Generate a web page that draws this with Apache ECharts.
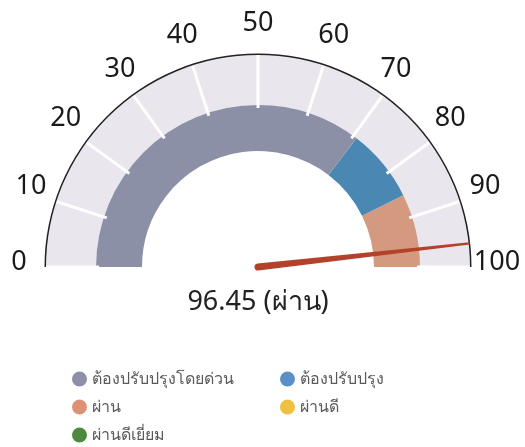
<!DOCTYPE html>
<html>
<head>
<meta charset="utf-8">
<script src="https://cdn.jsdelivr.net/npm/echarts@6/dist/echarts.min.js"></script>
<style>
html,body{margin:0;padding:0;background:#fff;}
#chart{width:525px;height:447px;}
</style>
</head>
<body>
<div id="chart"></div>
<script>
// ---- data ----
const gaugeMin = 0;
const gaugeMax = 100;
const gaugeSplit = 10;
const gaugeValue = 96.45;
const gaugeStatus = 'ผ่าน';
const bandEnds = [70.8, 85.4, 100];
const bandColors = ['#8b90a6', '#4b87b3', '#d49a7f'];
const legendNames = ['ต้องปรับปรุงโดยด่วน', 'ต้องปรับปรุง', 'ผ่าน', 'ผ่านดี', 'ผ่านดีเยี่ยม'];
const legendColors = ['#8e90aa', '#5b8fc8', '#de9275', '#f0c040', '#4e8a3e'];
const legendLeftCol = ['ต้องปรับปรุงโดยด่วน', 'ผ่าน', 'ผ่านดีเยี่ยม'];
const legendRightCol = ['ต้องปรับปรุง', 'ผ่านดี'];

const FONT = '"Noto Sans", "Open Sans", sans-serif';
const CENTER = [258, 267];

const base = {
  type: 'gauge', center: CENTER, startAngle: 180, endAngle: 0,
  min: gaugeMin, max: gaugeMax, splitNumber: gaugeSplit,
  axisLine: { show: false, lineStyle: { width: 0 } }, axisTick: { show: false }, splitLine: { show: false },
  axisLabel: { show: false }, pointer: { show: false }, title: { show: false },
  detail: { show: false }, anchor: { show: false }, progress: { show: false },
  silent: true, data: []
};
function g(o) { return Object.assign({}, base, o); }

const legendCommon = {
  orient: 'vertical', top: 370, itemGap: 10, icon: 'circle', padding: 0,
  itemWidth: 15, itemHeight: 15, selectedMode: false, height: 80,
  textStyle: { fontSize: 16, color: '#5a5a5a', fontFamily: FONT, lineHeight: 18 }
};

const option = {
  animation: false,
  legend: [
    Object.assign({}, legendCommon, { left: 72, data: legendLeftCol }),
    Object.assign({}, legendCommon, { left: 280, data: legendRightCol })
  ],
  series: [
    g({ radius: 213, axisLine: { show: true, lineStyle: { width: 51, color: [[1, '#e9e7ed']] } } }),
    g({ radius: 162, axisLine: { show: true, lineStyle: { width: 46,
        color: bandEnds.map((e, i) => [(e - gaugeMin) / (gaugeMax - gaugeMin), bandColors[i]]) } } }),
    g({ radius: 212, splitLine: { show: true, length: 53, distance: 0, lineStyle: { color: '#fff', width: 3 } } }),
    g({ radius: 213.5, axisLine: { show: true, lineStyle: { width: 1.5, color: [[1, '#222']] } } }),
    {
      type: 'pie', center: [-500, -500], radius: 1, silent: true,
      label: { show: false }, labelLine: { show: false },
      data: legendNames.map((n, i) => ({ name: n, value: 1, itemStyle: { color: legendColors[i] } }))
    },
    g({
      radius: 213,
      splitLine: { show: false, length: 0, distance: 0 },
      axisLabel: { show: true, distance: -32, color: '#1a1a1a', fontSize: 27, fontFamily: FONT,
        padding: [0, 5, 10, 5],
        formatter: v => '{t|' + v + '}',
        rich: { t: { width: 2, height: 2, lineHeight: 2, align: 'center', verticalAlign: 'middle',
          fontSize: 27, fontFamily: FONT, color: '#1a1a1a' } } },
      pointer: { show: true, icon: 'path://M2.4,0 L4.6,0 L7,213 A3.5,3.5 0 0 1 0,213 Z',
        width: 7, length: 216.5, offsetCenter: [0, 3.5], itemStyle: { color: '#b3412b' } },
      detail: { show: true, offsetCenter: [0, 35], fontSize: 27, fontWeight: 'normal', color: '#222', fontFamily: FONT,
        formatter: v => v + ' (' + gaugeStatus + ')' },
      data: [{ value: gaugeValue }]
    })
  ]
};
const chart = echarts.init(document.getElementById('chart'));
chart.setOption(option);
</script>
</body>
</html>
